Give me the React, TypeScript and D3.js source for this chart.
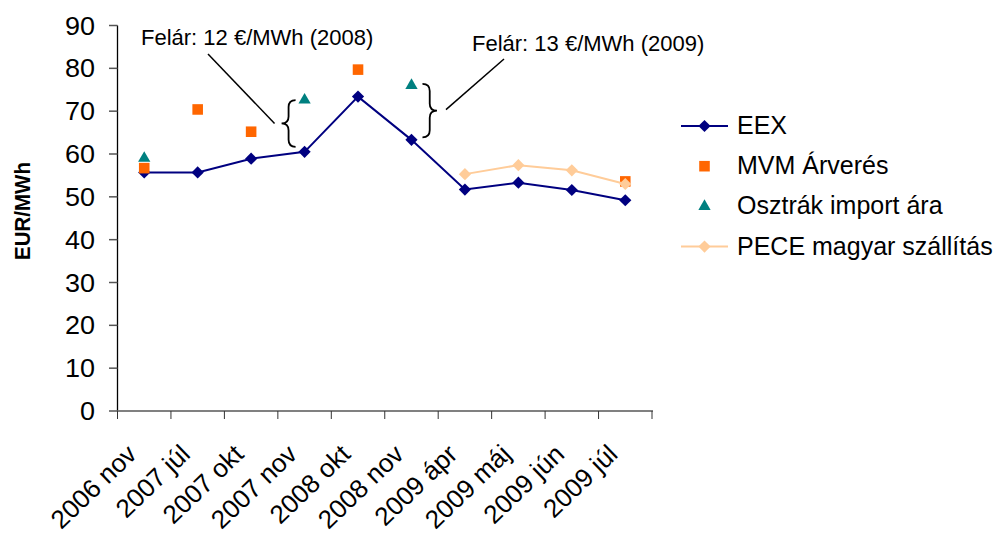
import React from 'react';
import * as d3 from 'd3';

const categories = ['2006 nov', '2007 júl', '2007 okt', '2007 nov', '2008 okt', '2008 nov', '2009 ápr', '2009 máj', '2009 jún', '2009 júl'];
const eex: (number | null)[] = [55.7, 55.7, 58.9, 60.5, 73.4, 63.3, 51.7, 53.3, 51.6, 49.2];
const mvm: (number | null)[] = [56.7, 70.4, 65.2, null, 79.7, null, null, null, null, 53.6];
const osztrak: (number | null)[] = [59.0, null, null, 72.6, null, 76.0, null, null, null, null];
const pece: (number | null)[] = [null, null, null, null, null, null, 55.3, 57.4, 56.2, 53.0];
const yTicks = [0, 10, 20, 30, 40, 50, 60, 70, 80, 90];
const legendLabels = ['EEX', 'MVM Árverés', 'Osztrák import ára', 'PECE magyar szállítás'];
const note2008 = 'Felár: 12 €/MWh (2008)';
const note2009 = 'Felár: 13 €/MWh (2009)';

const FONT = '"Liberation Sans", Arial, sans-serif';
const NAVY = '#000080';
const ORANGE = '#FF6600';
const TEAL = '#008080';
const PEACH = '#FFCC99';

const W = 996;
const H = 534;

const x = d3.scaleBand<string>().domain(categories).range([117.5, 652]).padding(0);
const y = d3.scaleLinear().domain([0, 90]).range([411, 25.5]);
const cx = (i: number) => (x(categories[i]) as number) + x.bandwidth() / 2;

type Pt = { i: number; v: number };
const pts = (arr: (number | null)[]): Pt[] =>
  arr.map((v, i) => ({ i, v })).filter((p) => p.v !== null) as Pt[];

const diamond = d3.symbol().type(d3.symbolDiamond2).size(95);
const square = d3.symbol().type(d3.symbolSquare).size(112);
const triangle = d3.symbol().type(d3.symbolTriangle2).size(108);

const line = d3
  .line<Pt>()
  .x((p) => cx(p.i))
  .y((p) => y(p.v));

// curly brace between y0 and y1; the tip points towards xTip
function brace(xEnd: number, xTip: number, y0: number, y1: number) {
  const mid = (y0 + y1) / 2;
  const xm = (xEnd + xTip) / 2;
  const r = 7;
  return `M${xEnd},${y0} Q${xm},${y0} ${xm},${y0 + r} L${xm},${mid - r} Q${xm},${mid} ${xTip},${mid} Q${xm},${mid} ${xm},${mid + r} L${xm},${y1 - r} Q${xm},${y1} ${xEnd},${y1}`;
}

export default function App() {
  const b1Top = y(osztrak[3] as number);
  const b1Bot = y(eex[3] as number) - 5;
  const b1Mid = (b1Top + b1Bot) / 2;
  const b2Top = y(osztrak[5] as number) - 1.5;
  const b2Bot = y(eex[5] as number) - 2.5;
  const b2Mid = (b2Top + b2Bot) / 2;
  const b1End = cx(3) - 9;
  const b1Tip = cx(3) - 23;
  const b2End = cx(5) + 11;
  const b2Tip = cx(5) + 25.5;

  const boundaries = d3.range(categories.length + 1).map((k) => 117.5 + k * x.bandwidth());

  return (
    <svg width={W} height={H} style={{ position: 'absolute', left: 0, top: 0, background: '#fff' }} fontFamily={FONT}>
      <rect width={W} height={H} fill="#fff" />

      {/* y axis */}
      <line x1={117.5} x2={117.5} y1={y(90)} y2={y(0)} stroke="#000" strokeWidth={1.3} />
      {yTicks.map((t) => (
        <g key={t}>
          <line x1={109} x2={117.5} y1={y(t)} y2={y(t)} stroke="#555" strokeWidth={1.5} />
          <text transform={`translate(95,${y(t) + 9}) scale(1.08,1)`} textAnchor="end" fontSize={25} fill="#000">
            {t}
          </text>
        </g>
      ))}
      <text transform={`translate(30,211) rotate(-90) scale(1,1.12)`} textAnchor="middle" fontSize={20.5} fontWeight="bold">
        EUR/MWh
      </text>

      {/* x axis */}
      <line x1={117.5} x2={653} y1={y(0)} y2={y(0)} stroke="#808080" strokeWidth={2} />
      {boundaries.map((bx, k) => (
        <line key={k} x1={bx} x2={bx} y1={y(0)} y2={y(0) + 8} stroke="#333" strokeWidth={1} />
      ))}
      {categories.map((c, i) => (
        <text
          key={c}
          transform={`translate(${cx(i) - 6},456) rotate(-44)`}
          textAnchor="end"
          fontSize={26}
        >
          {c}
        </text>
      ))}

      {/* series */}
      <path d={line(pts(eex)) || ''} fill="none" stroke={NAVY} strokeWidth={2} />
      {pts(eex).map((p) => (
        <path key={'e' + p.i} d={diamond() || ''} transform={`translate(${cx(p.i)},${y(p.v)})`} fill={NAVY} />
      ))}
      {pts(mvm).map((p) => (
        <path key={'m' + p.i} d={square() || ''} transform={`translate(${cx(p.i)},${y(p.v)})`} fill={ORANGE} />
      ))}
      {pts(osztrak).map((p) => (
        <path key={'o' + p.i} d={triangle() || ''} transform={`translate(${cx(p.i)},${y(p.v)})`} fill={TEAL} />
      ))}
      <path d={line(pts(pece)) || ''} fill="none" stroke={PEACH} strokeWidth={2} />
      {pts(pece).map((p) => (
        <path key={'p' + p.i} d={diamond() || ''} transform={`translate(${cx(p.i)},${y(p.v)})`} fill={PEACH} />
      ))}

      {/* premium annotations */}
      <path d={brace(b1End, b1Tip, b1Top, b1Bot)} fill="none" stroke="#000" strokeWidth={1.8} />
      <path d={brace(b2End, b2Tip, b2Top, b2Bot)} fill="none" stroke="#000" strokeWidth={1.8} />
      <line x1={b1Tip - 7} y1={b1Mid} x2={208} y2={54} stroke="#000" strokeWidth={1.5} />
      <line x1={b2Tip + 9} y1={b2Mid - 1} x2={504} y2={59} stroke="#000" strokeWidth={1.5} />
      <text x={141} y={45} fontSize={22}>
        {note2008}
      </text>
      <text x={472} y={50.7} fontSize={22}>
        {note2009}
      </text>

      {/* legend */}
      {legendLabels.map((lab, k) => {
        const ly = 126 + k * 40.2;
        return (
          <g key={lab}>
            {k === 0 && (
              <>
                <line x1={681} x2={728} y1={ly} y2={ly} stroke={NAVY} strokeWidth={2} />
                <path d={diamond() || ''} transform={`translate(704.5,${ly})`} fill={NAVY} />
              </>
            )}
            {k === 1 && <path d={square() || ''} transform={`translate(704.5,${ly})`} fill={ORANGE} />}
            {k === 2 && <path d={triangle() || ''} transform={`translate(704.5,${ly})`} fill={TEAL} />}
            {k === 3 && (
              <>
                <line x1={681} x2={728} y1={ly} y2={ly} stroke={PEACH} strokeWidth={2} />
                <path d={diamond() || ''} transform={`translate(704.5,${ly})`} fill={PEACH} />
              </>
            )}
            <text x={737} y={ly + 8} fontSize={25}>
              {lab}
            </text>
          </g>
        );
      })}
    </svg>
  );
}
